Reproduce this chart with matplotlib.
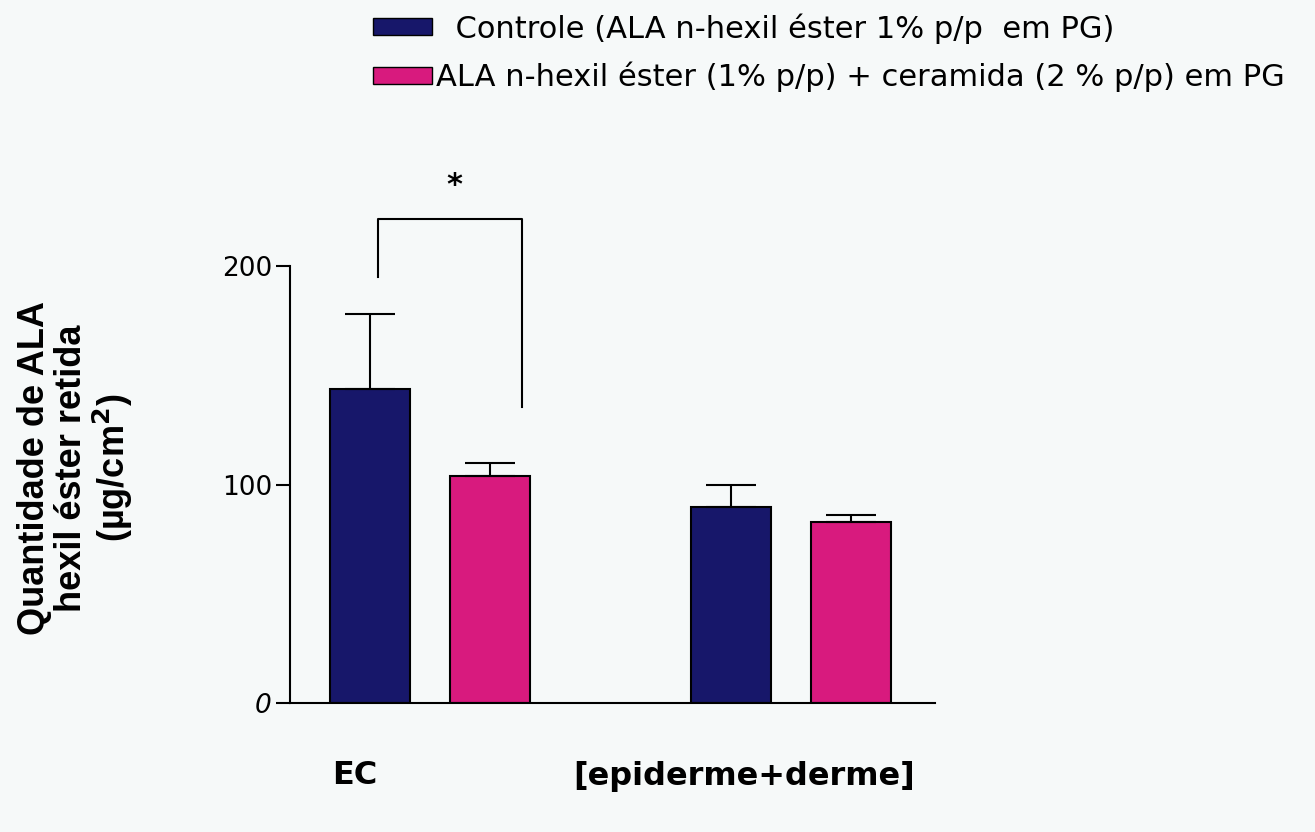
import matplotlib.pyplot as plt
from matplotlib.patches import Patch

# data
groups = ["EC", "[epiderme+derme]"]
series = ["  Controle (ALA n-hexil éster 1% p/p  em PG)",
          "ALA n-hexil éster (1% p/p) + ceramida (2 % p/p) em PG"]
controle = [144, 90]
controle_err = [34, 10]
ceramida = [104, 83]
ceramida_err = [6, 3]

navy = "#17176a"
magenta = "#d81a7e"
bg = "#f6f9f9"

plt.rcParams['font.family'] = ['DejaVu Sans']

fig = plt.figure(figsize=(13.15, 8.32), dpi=100, facecolor=bg)
ax = fig.add_axes([0.2205, 0.155, 0.4905, 0.656])
ax.set_facecolor(bg)

pos_c = [1.0, 5.5]
pos_k = [2.5, 7.0]
ax.bar(pos_c, controle, width=1.0, color=navy, edgecolor="black", linewidth=1.5)
ax.bar(pos_k, ceramida, width=1.0, color=magenta, edgecolor="black", linewidth=1.5)
ax.errorbar(pos_c, controle, yerr=[[0, 0], controle_err], fmt="none",
            ecolor="black", elinewidth=1.5, capsize=18, capthick=1.5)
ax.errorbar(pos_k, ceramida, yerr=[[0, 0], ceramida_err], fmt="none",
            ecolor="black", elinewidth=1.5, capsize=18, capthick=1.5)

# significance bracket
ax.plot([1.1, 1.1, 2.9, 2.9], [195, 221.5, 221.5, 135.5], color="black", lw=1.5)
ax.text(2.05, 237, "*", ha="center", va="center", fontsize=22, fontweight="bold")

ax.set_xlim(0, 8.05)
ax.set_ylim(0, 250)
ax.spines["top"].set_visible(False)
ax.spines["right"].set_visible(False)
ax.spines["left"].set_bounds(0, 200)
ax.spines["left"].set_linewidth(1.5)
ax.spines["bottom"].set_linewidth(1.5)
ax.set_yticks([0, 100, 200])
ax.set_yticklabels(["0", "100", "200"], fontsize=19)
ax.get_yticklabels()[0].set_fontstyle("italic")
ax.tick_params(axis="y", length=10, width=1.5, pad=3)
ax.set_xticks([])

fig.text(76 / 1315, 1 - 468 / 832,
         "Quantidade de ALA\nhexil éster retida\n(µg/cm$^{\\mathbf{2}}$)",
         rotation=90, ha="center", va="center", multialignment="center",
         fontsize=26, fontweight="bold", linespacing=1.05,
         family=["Liberation Sans", "DejaVu Sans"])

fig.text(355 / 1315, 1 - 776 / 832, groups[0], ha="center", va="center",
         fontsize=23, fontweight="bold")
fig.text(744 / 1315, 1 - 776 / 832, groups[1], ha="center", va="center",
         fontsize=23, fontweight="bold")

handles = [Patch(facecolor=navy, edgecolor="black"),
           Patch(facecolor=magenta, edgecolor="black")]
fig.legend(handles, series, loc="upper left", bbox_to_anchor=(373 / 1315, 1 - 13 / 832),
           frameon=False, handlelength=1.93, handleheight=0.5,
           handletextpad=0.12, labelspacing=0.6, borderaxespad=0, borderpad=0,
           prop={"family": ["DejaVu Sans"], "size": 22})

fig.savefig("out.png", dpi=100, facecolor=bg)
